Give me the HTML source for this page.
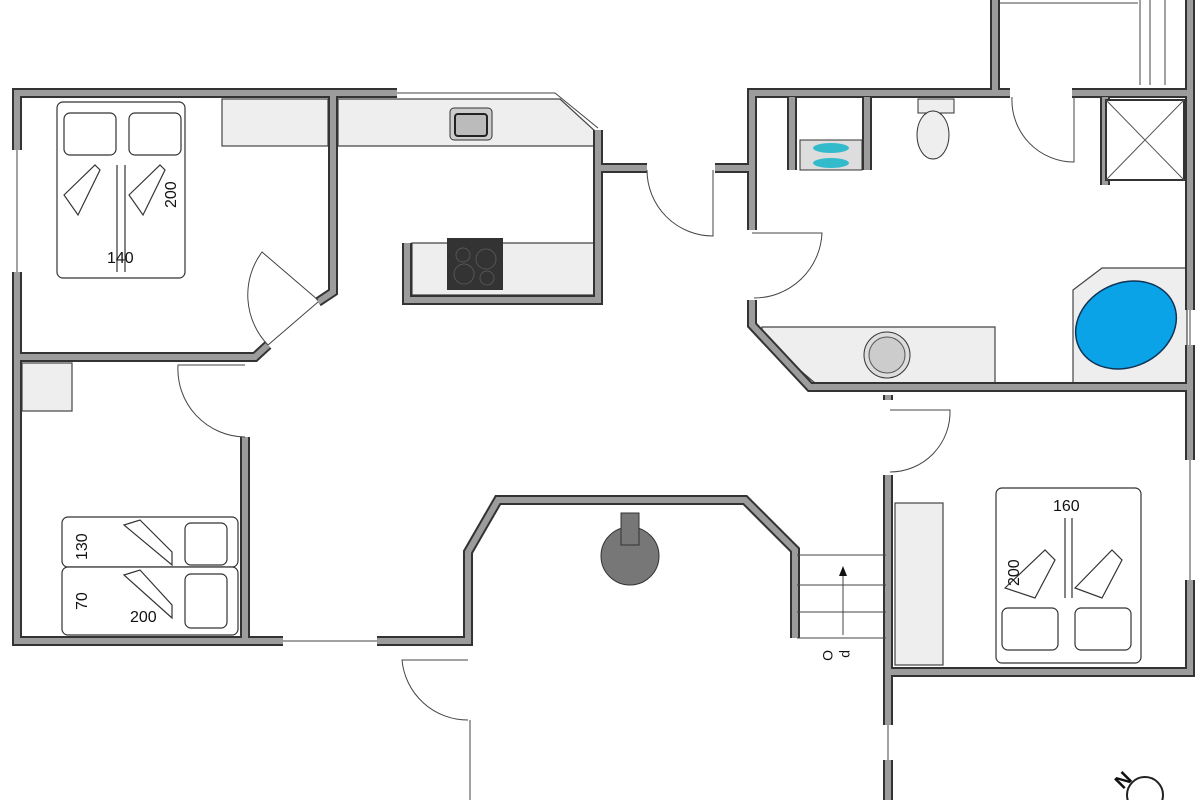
<!DOCTYPE html>
<html><head><meta charset="utf-8"><style>html,body{margin:0;padding:0;background:#fff}svg{display:block}text{font-family:"Liberation Sans",sans-serif;fill:#111}</style></head><body>
<svg width="1200" height="800" viewBox="0 0 1200 800" xmlns="http://www.w3.org/2000/svg">
<g fill="#eee" stroke="#444" stroke-width="1.2">
<rect x="222" y="99" width="106" height="47"/>
<path d="M338 99 H560 L596 132 V146 H338 Z"/>
<path d="M412 243 H596 V295 H412 Z"/>
<rect x="22" y="363" width="50" height="48"/>
<path d="M762 327 H995 V383 H815 L762 338 Z"/>
<path d="M1073 290 L1102 268 H1187 V383 H1073 Z"/>
<rect x="895" y="503" width="48" height="162"/>
</g>
<g fill="none" stroke-linejoin="miter">
<g stroke="#333" stroke-width="10">
<path d="M17 150 V93 H397"/><path d="M17 272 V641 H283"/><path d="M377 641 H468 V552 L498 500 H745 L795 550 V638"/>
<path d="M333 93 V292 L318 302"/><path d="M268 345 L255 357 H17"/><path d="M245 437 V641"/>
<path d="M598 130 V300 H407 V243"/><path d="M600 168 H647"/><path d="M715 168 H752 V93 H1010"/>
<path d="M752 93 V230"/><path d="M752 300 V325 L810 387 H1190"/><path d="M1072 93 H1190"/><path d="M1190 0 V310"/><path d="M1190 345 V460"/><path d="M1190 580 V672 H888"/>
<path d="M995 0 V93"/><path d="M792 97 V170"/><path d="M867 97 V170"/><path d="M888 395 V400"/><path d="M888 475 V725"/><path d="M888 760 V800"/><path d="M1105 97 V185"/>
</g>
<g stroke="#9c9c9c" stroke-width="6">
<path d="M17 150 V93 H397"/><path d="M17 272 V641 H283"/><path d="M377 641 H468 V552 L498 500 H745 L795 550 V638"/>
<path d="M333 93 V292 L318 302"/><path d="M268 345 L255 357 H17"/><path d="M245 437 V641"/>
<path d="M598 130 V300 H407 V243"/><path d="M600 168 H647"/><path d="M715 168 H752 V93 H1010"/>
<path d="M752 93 V230"/><path d="M752 300 V325 L810 387 H1190"/><path d="M1072 93 H1190"/><path d="M1190 0 V310"/><path d="M1190 345 V460"/><path d="M1190 580 V672 H888"/>
<path d="M995 0 V93"/><path d="M792 97 V170"/><path d="M867 97 V170"/><path d="M888 395 V400"/><path d="M888 475 V725"/><path d="M888 760 V800"/><path d="M1105 97 V185"/>
</g>
<g stroke="#444" stroke-width="1">
<path d="M17 150 V272 M397 93 H555 L598 128 M283 641 H377 M1190 310 V345 M1190 460 V580 M888 725 V760 M470 720 V800"/>
<path d="M1000 3 H1138 M1140 0 V85 M1150 0 V85 M1165 0 V85"/>
<path d="M268 345 L318 302 M318 300 L262 252 A72 72 0 0 0 268 345"/>
<path d="M245 365 H178 A68 68 0 0 0 245 437"/>
<path d="M647 170 A66 66 0 0 0 713 236 V170"/>
<path d="M752 233 H822 A68 68 0 0 1 754 298"/>
<path d="M1012 97 A62 62 0 0 0 1074 162 V97"/>
<path d="M890 410 H950 A60 60 0 0 1 890 472"/>
<path d="M468 660 H402 A66 66 0 0 0 468 720"/>
<path d="M797 555 H886 M797 585 H886 M797 612 H886 M797 638 H886 M843 635 V570"/>
</g>
</g>
<path d="M843 566 l-4 10 h8 z" fill="#111"/>
<text x="829" y="656" font-size="14" transform="rotate(90 829 650)">O</text><text x="848" y="656" font-size="14" transform="rotate(90 848 650)">p</text>
<!-- beds -->
<g fill="#fff" stroke="#333" stroke-width="1.2">
<rect x="57" y="102" width="128" height="176" rx="6"/><rect x="64" y="113" width="52" height="42" rx="6"/><rect x="129" y="113" width="52" height="42" rx="6"/>
<path d="M117 165 V272 M125 165 V272" fill="none"/>
<rect x="62" y="517" width="176" height="50" rx="6"/><rect x="62" y="567" width="176" height="68" rx="6"/>
<rect x="185" y="523" width="42" height="42" rx="6"/><rect x="185" y="574" width="42" height="54" rx="6"/>
<rect x="996" y="488" width="145" height="175" rx="6"/><rect x="1002" y="608" width="56" height="42" rx="6"/><rect x="1075" y="608" width="56" height="42" rx="6"/>
<path d="M1065 518 V598 M1072 518 V598" fill="none"/>
<path d="M64 195 L95 165 L100 170 L78 215 Z"/><path d="M129 195 L160 165 L165 170 L143 215 Z"/>
<path d="M124 525 L140 520 L172 552 L172 565 Z"/><path d="M124 575 L140 570 L172 605 L172 618 Z"/>
<path d="M1005 588 L1045 550 L1055 560 L1035 598 Z"/><path d="M1075 588 L1112 550 L1122 560 L1102 598 Z"/>
</g>
<text x="107" y="263" font-size="16">140</text>
<text x="176" y="208" font-size="16" transform="rotate(-90 176 208)">200</text>
<text x="87" y="560" font-size="16" transform="rotate(-90 87 560)">130</text>
<text x="87" y="610" font-size="16" transform="rotate(-90 87 610)">70</text>
<text x="130" y="622" font-size="16">200</text>
<text x="1053" y="511" font-size="16">160</text>
<text x="1019" y="586" font-size="16" transform="rotate(-90 1019 586)">200</text>
<!-- fixtures -->
<rect x="450" y="108" width="42" height="32" rx="4" fill="#ccc" stroke="#333"/><rect x="455" y="114" width="32" height="22" rx="3" fill="#bbb" stroke="#222" stroke-width="2"/>
<rect x="447" y="238" width="56" height="52" fill="#333"/>
<g fill="none" stroke="#555"><circle cx="463" cy="255" r="7"/><circle cx="486" cy="259" r="10"/><circle cx="464" cy="274" r="10"/><circle cx="487" cy="278" r="7"/></g>
<rect x="918" y="99" width="36" height="14" fill="#eee" stroke="#333"/><ellipse cx="933" cy="135" rx="16" ry="24" fill="#eee" stroke="#333"/>
<rect x="800" y="140" width="62" height="30" fill="#ddd" stroke="#333"/><ellipse cx="831" cy="148" rx="18" ry="5" fill="#3bc"/><ellipse cx="831" cy="163" rx="18" ry="5" fill="#3bc"/>
<rect x="1106" y="100" width="78" height="80" fill="#fff" stroke="#333" stroke-width="2"/><path d="M1106 100 L1184 180 M1184 100 L1106 180" stroke="#555"/>
<ellipse cx="1126" cy="325" rx="52" ry="42" transform="rotate(-25 1126 325)" fill="#0aa3e8" stroke="#135" stroke-width="1.5"/>
<circle cx="887" cy="355" r="23" fill="#ddd" stroke="#333"/><circle cx="887" cy="355" r="18" fill="#ccc" stroke="#555"/>
<circle cx="630" cy="556" r="29" fill="#777" stroke="#333"/><rect x="621" y="513" width="18" height="32" fill="#777" stroke="#333"/>
<circle cx="1145" cy="795" r="18" fill="none" stroke="#222" stroke-width="2"/><text x="1115" y="785" font-size="20" font-weight="bold" transform="rotate(-45 1125 778)">N</text>
</svg>
</body></html>
